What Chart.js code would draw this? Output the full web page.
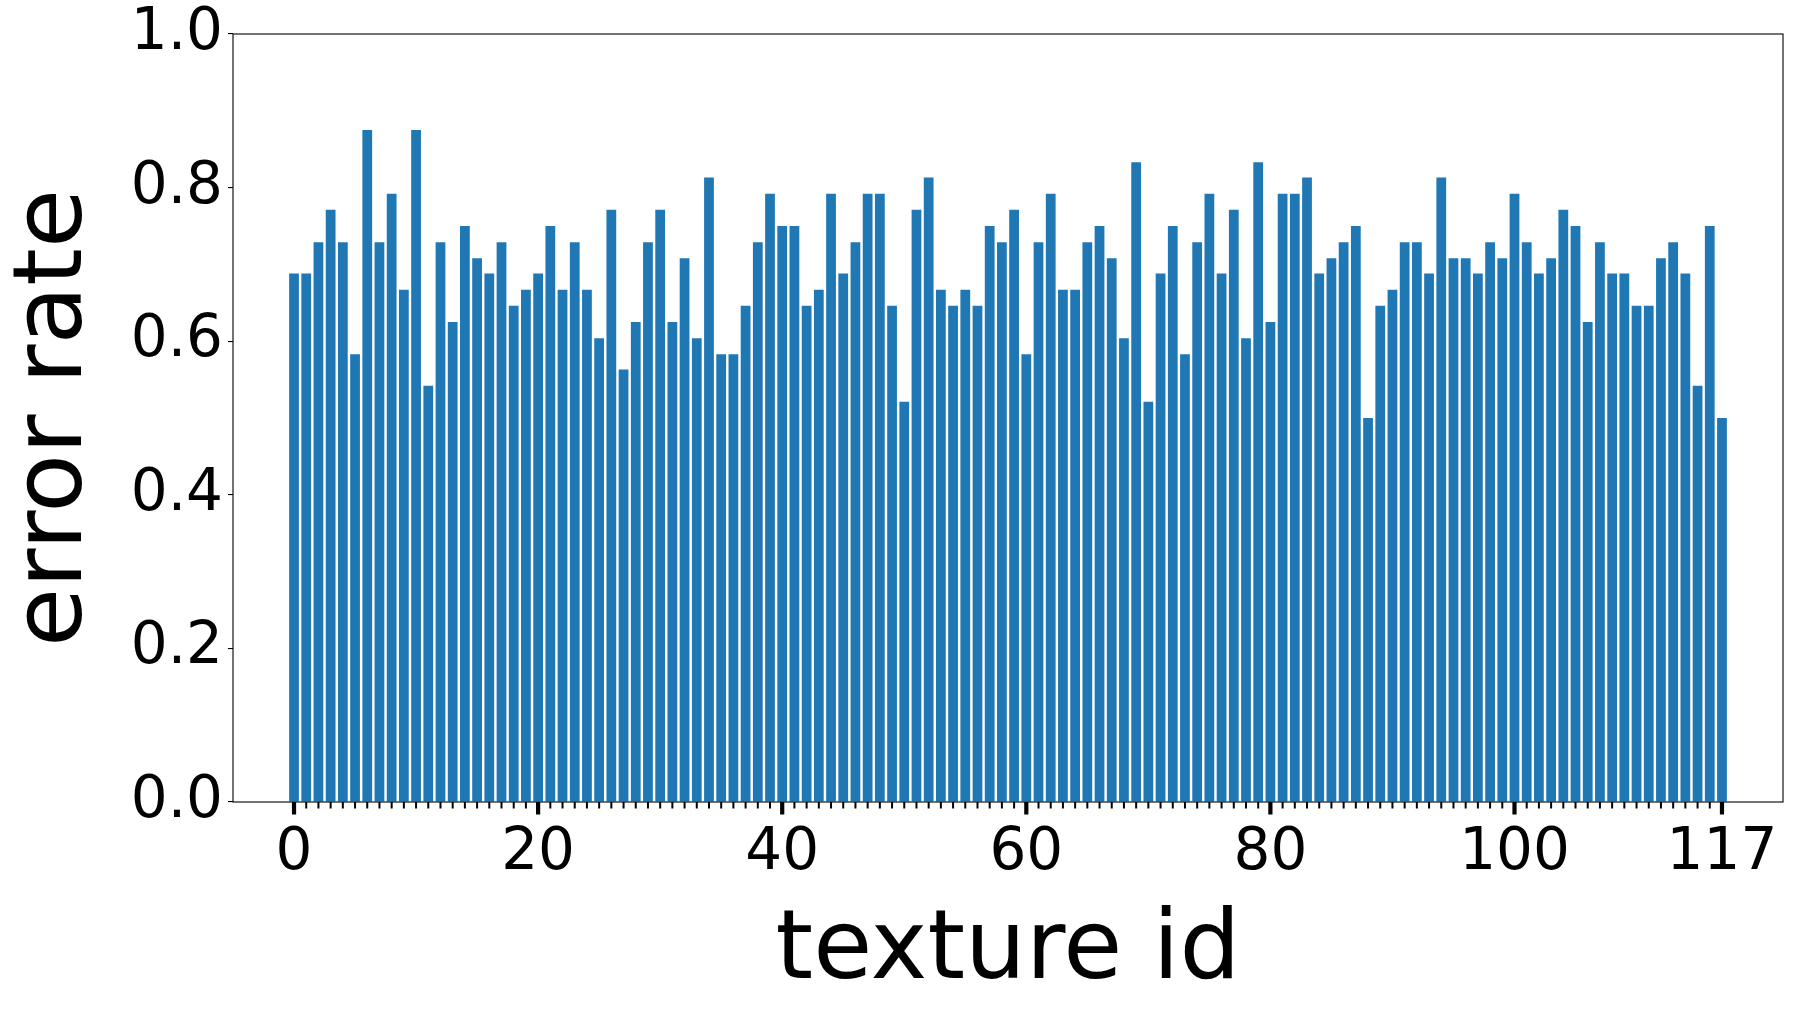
<!DOCTYPE html>
<html>
<head>
<meta charset="utf-8">
<script src="https://cdn.jsdelivr.net/npm/chart.js@4.4.0/dist/chart.umd.min.js"></script>
<style>
  html, body { margin: 0; padding: 0; background: #fff; }
  #wrap { width: 1793px; height: 1009px; }
</style>
</head>
<body>
<div id="wrap"><canvas id="error-chart" width="1793" height="1009"></canvas></div>
<script>
// texture ids shown on the x axis
const textureIds = [
  0, 1, 2, 3, 4, 5, 6, 7, 8, 9, 10, 11, 12, 13, 14, 15, 16, 17, 18, 19,
  20, 21, 22, 23, 24, 25, 26, 27, 28, 29, 30, 31, 32, 33, 34, 35, 36, 37, 38, 39,
  40, 41, 42, 43, 44, 45, 46, 47, 48, 49, 50, 51, 52, 53, 54, 55, 56, 57, 58, 59,
  60, 61, 62, 63, 64, 65, 66, 67, 68, 69, 70, 71, 72, 73, 74, 75, 76, 77, 78, 79,
  80, 81, 82, 83, 84, 85, 86, 87, 88, 89, 90, 91, 92, 93, 94, 95, 96, 97, 98, 99,
  100, 101, 102, 103, 104, 105, 106, 107, 108, 109, 110, 111, 112, 113, 114, 115, 116, 117
];

// error rate per texture
const errorRates = [
  0.688, 0.688, 0.729, 0.771, 0.729, 0.583, 0.875, 0.729, 0.792, 0.667,
  0.875, 0.542, 0.729, 0.625, 0.750, 0.708, 0.688, 0.729, 0.646, 0.667,
  0.688, 0.750, 0.667, 0.729, 0.667, 0.604, 0.771, 0.563, 0.625, 0.729,
  0.771, 0.625, 0.708, 0.604, 0.813, 0.583, 0.583, 0.646, 0.729, 0.792,
  0.750, 0.750, 0.646, 0.667, 0.792, 0.688, 0.729, 0.792, 0.792, 0.646,
  0.521, 0.771, 0.813, 0.667, 0.646, 0.667, 0.646, 0.750, 0.729, 0.771,
  0.583, 0.729, 0.792, 0.667, 0.667, 0.729, 0.750, 0.708, 0.604, 0.833,
  0.521, 0.688, 0.750, 0.583, 0.729, 0.792, 0.688, 0.771, 0.604, 0.833,
  0.625, 0.792, 0.792, 0.813, 0.688, 0.708, 0.729, 0.750, 0.500, 0.646,
  0.667, 0.729, 0.729, 0.688, 0.813, 0.708, 0.708, 0.688, 0.729, 0.708,
  0.792, 0.729, 0.688, 0.708, 0.771, 0.750, 0.625, 0.729, 0.688, 0.688,
  0.646, 0.646, 0.708, 0.729, 0.688, 0.542, 0.750, 0.500
];

const xMajorTicks = [0, 20, 40, 60, 80, 100, 117];
const yTicks = [0.0, 0.2, 0.4, 0.6, 0.8, 1.0];

const FONT = '"DejaVu Sans", "Liberation Sans", sans-serif';

// frame round the plot + the x tick marks (major/minor)
const framePlugin = {
    id: 'frame',
    afterDraw(chart) {
        const { ctx, chartArea } = chart;
        const xs = chart.scales.x;
        ctx.save();
        ctx.strokeStyle = '#000';
        ctx.lineWidth = 1.1;
        ctx.strokeRect(chartArea.left, chartArea.top,
            chartArea.right - chartArea.left, chartArea.bottom - chartArea.top);
        textureIds.forEach(id => {
            const px = xs.getPixelForValue(id);
            const major = xMajorTicks.includes(id);
            ctx.lineWidth = major ? 4.2 : 2;
            ctx.beginPath();
            ctx.moveTo(px, chartArea.bottom);
            ctx.lineTo(px, chartArea.bottom + (major ? 12.5 : 6.5));
            ctx.stroke();
        });
        ctx.restore();
    }
};

const ctx = document.getElementById('error-chart');
new Chart(ctx, {
    type: 'bar',
    data: {
        datasets: [{
            label: 'error rate',
            data: textureIds.map((id, i) => ({ x: id, y: errorRates[i] })),
            backgroundColor: '#1f77b4',
            borderWidth: 0,
            barPercentage: 0.8,
            categoryPercentage: 1.0
        }]
    },
    options: {
        responsive: false,
        animation: false,
        devicePixelRatio: 1,
        layout: { padding: { top: 32, right: 10, left: 0, bottom: 0 } },
        plugins: {
            legend: { display: false },
            tooltip: { enabled: false }
        },
        scales: {
            x: {
                type: 'linear',
                min: -5,
                max: 122,
                offset: false,
                grid: { display: false },
                border: { display: false },
                afterBuildTicks: scale => {
                    scale.ticks = xMajorTicks.map(v => ({ value: v }));
                },
                afterFit: scale => { scale.height = 207; },
                ticks: {
                    autoSkip: false,
                    maxRotation: 0,
                    padding: 9,
                    color: '#000',
                    font: { family: FONT, size: 58, lineHeight: 1.2 },
                    callback: v => String(v)
                },
                title: {
                    display: true,
                    text: 'texture id',
                    color: '#000',
                    font: { family: FONT, size: 96, lineHeight: 1.2 },
                    padding: { top: 0, bottom: -2 }
                }
            },
            y: {
                min: 0,
                max: 1,
                afterBuildTicks: scale => {
                    scale.ticks = yTicks.map(v => ({ value: v }));
                },
                afterFit: scale => { scale.width = 233; },
                grid: {
                    drawOnChartArea: false,
                    drawTicks: true,
                    tickLength: 5,
                    color: '#000',
                    lineWidth: 1.1
                },
                border: { display: false },
                ticks: {
                    padding: 5,
                    color: '#000',
                    font: { family: FONT, size: 58, lineHeight: 1.0 },
                    callback: v => Number(v).toFixed(1)
                },
                title: {
                    display: true,
                    text: 'error rate',
                    color: '#000',
                    font: { family: FONT, size: 96, lineHeight: 1.2 },
                    padding: { top: -2, bottom: 0 }
                }
            }
        }
    },
    plugins: [framePlugin]
});
</script>
</body>
</html>
